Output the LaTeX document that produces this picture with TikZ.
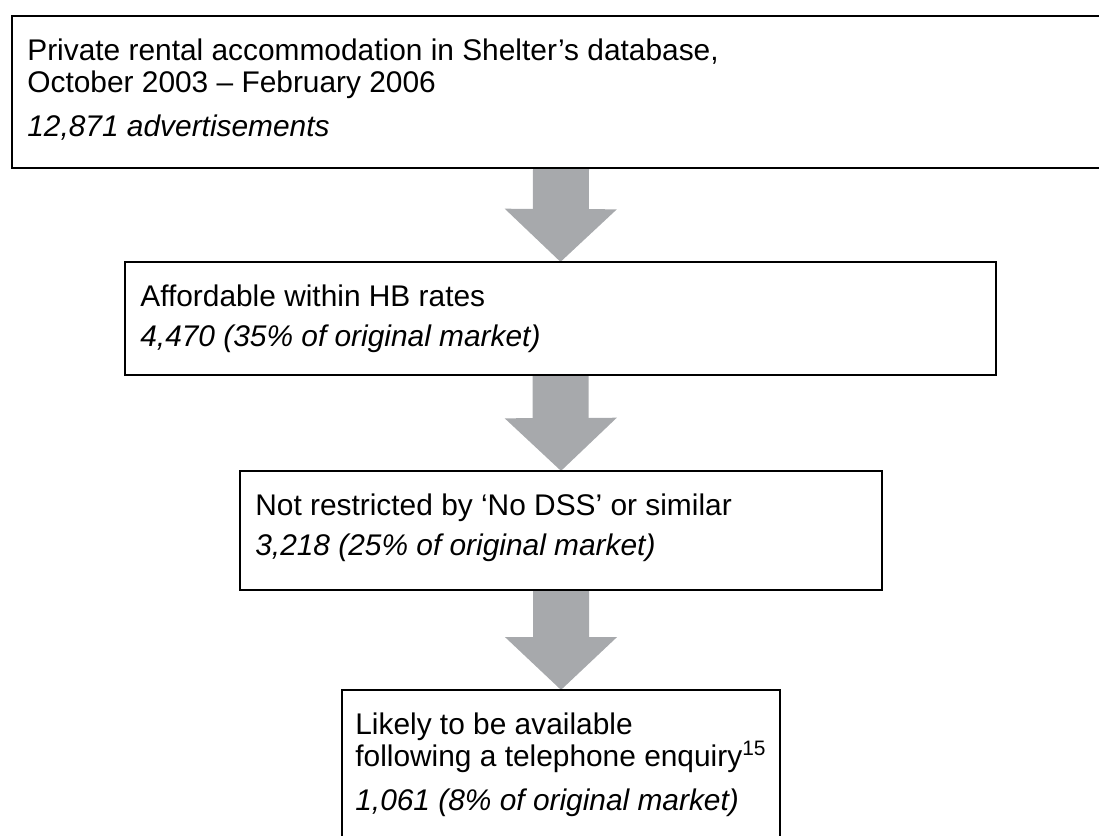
\documentclass[tikz,border=0pt]{standalone}
\usepackage{fontspec}
\setmainfont{Liberation Sans}
\usetikzlibrary{arrows.meta,positioning,backgrounds}

\definecolor{arrowgrey}{RGB}{167,169,172}

\begin{document}
\begin{tikzpicture}[
        stage/.style={draw, line width=1.3pt, anchor=north west, inner sep=0pt, outer sep=0pt},
        stagetext/.style={inner sep=0pt, align=left, font=\fontsize{17}{18.7}\selectfont},
        downarrow/.style={arrowgrey, line width=1.12cm, -{Triangle[width=2.18cm,length=1.06cm]}}
    ]
        \useasboundingbox (0,0) rectangle (21.98,-16.7);
        \clip (0,0) rectangle (21.98,-16.7);

        % ramecky
        \node[stage, minimum width=21.96cm, minimum height=3.04cm] (market) at (0.24,-0.32) {};
        \node[stage, minimum width=17.42cm, minimum height=2.26cm] (hb) at (2.5,-5.24) {};
        \node[stage, minimum width=12.84cm, minimum height=2.38cm] (nodss) at (4.8,-9.42) {};
        \node[stage, minimum width=8.76cm, minimum height=3.4cm] (phone) at (6.84,-13.8) {};

        % texty
        \node[stagetext, below right=0.44cm and 0.3cm of market.north west] (markettext)
        {Private rental accommodation in Shelter’s database,\\
         October 2003 – February 2006\\[6pt]
         \textit{12,871 advertisements}};
        \node[stagetext, below right=0.44cm and 0.3cm of hb.north west] (hbtext)
        {Affordable within HB rates\\[4.5pt]
         \textit{4,470 (35\% of original market)}};
        \node[stagetext, below right=0.44cm and 0.3cm of nodss.north west] (nodsstext)
        {Not restricted by ‘No DSS’ or similar\\[4.5pt]
         \textit{3,218 (25\% of original market)}};
        \node[stagetext, below right=0.44cm and 0.26cm of phone.north west] (phonetext)
        {Likely to be available\\
         following a telephone enquiry\textsuperscript{15}\\[6pt]
         \textit{1,061 (8\% of original market)}};

        % sipky
        \begin{scope}[on background layer]
            \draw[downarrow] (market.south) -- (hb.north);
            \draw[downarrow] (hb.south) -- (nodss.north);
            \draw[downarrow] (nodss.south) -- (phone.north);
        \end{scope}
    \end{tikzpicture}
\end{document}
